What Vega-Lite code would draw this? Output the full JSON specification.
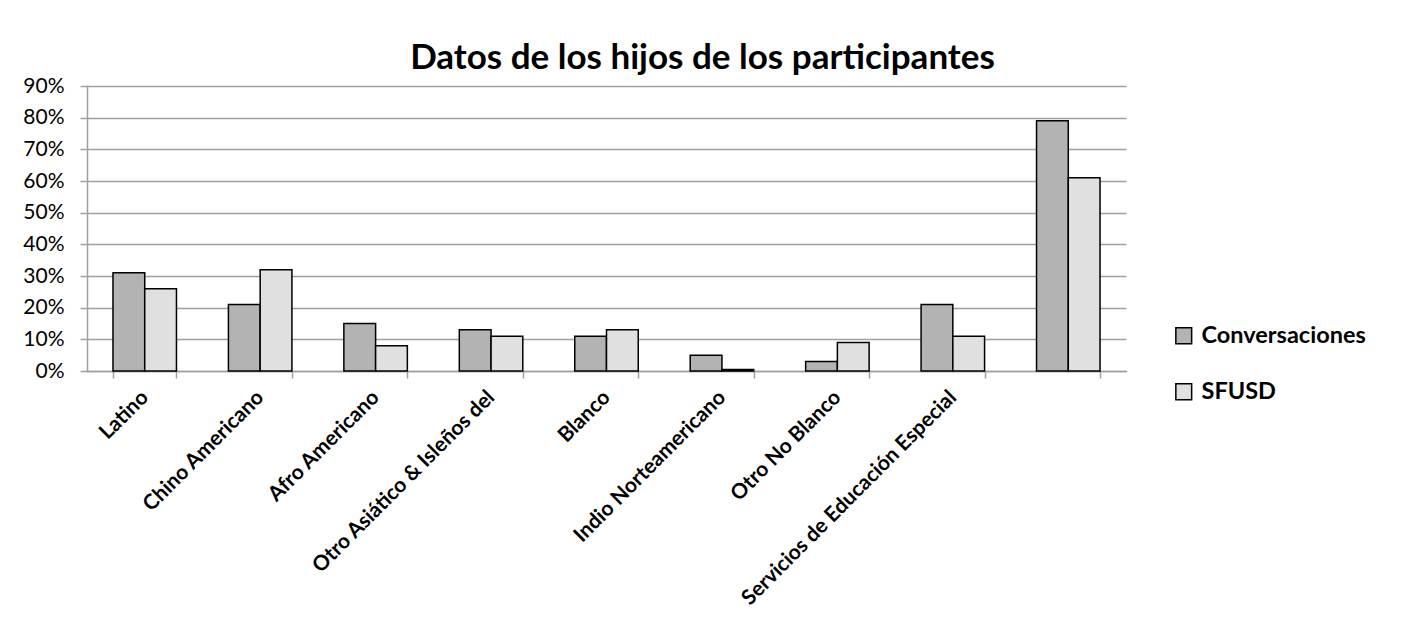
{
  "$schema": "https://vega.github.io/schema/vega-lite/v6.json",
  "width": 1039,
  "height": 285,
  "autosize": {"type": "none"},
  "padding": {"left": 87, "top": 86, "right": 277, "bottom": 270},
  "background": "white",
  "title": {
    "text": "Datos de los hijos de los participantes",
    "font": "Lato",
    "fontSize": 35,
    "fontWeight": "bold",
    "color": "black",
    "anchor": "middle",
    "dx": 96,
    "offset": -1
  },
  "data": {
    "values": [
      {"cat": "Latino", "serie": "Conversaciones", "v": 0.31},
      {"cat": "Latino", "serie": "SFUSD", "v": 0.26},
      {"cat": "Chino Americano", "serie": "Conversaciones", "v": 0.21},
      {"cat": "Chino Americano", "serie": "SFUSD", "v": 0.32},
      {"cat": "Afro Americano", "serie": "Conversaciones", "v": 0.15},
      {"cat": "Afro Americano", "serie": "SFUSD", "v": 0.08},
      {"cat": "Otro Asiático & Isleños del", "serie": "Conversaciones", "v": 0.13},
      {"cat": "Otro Asiático & Isleños del", "serie": "SFUSD", "v": 0.11},
      {"cat": "Blanco", "serie": "Conversaciones", "v": 0.11},
      {"cat": "Blanco", "serie": "SFUSD", "v": 0.13},
      {"cat": "Indio Norteamericano", "serie": "Conversaciones", "v": 0.05},
      {"cat": "Indio Norteamericano", "serie": "SFUSD", "v": 0.005},
      {"cat": "Otro No Blanco", "serie": "Conversaciones", "v": 0.03},
      {"cat": "Otro No Blanco", "serie": "SFUSD", "v": 0.09},
      {"cat": "Servicios de Educación Especial", "serie": "Conversaciones", "v": 0.21},
      {"cat": "Servicios de Educación Especial", "serie": "SFUSD", "v": 0.11},
      {"cat": " ", "serie": "Conversaciones", "v": 0.79},
      {"cat": " ", "serie": "SFUSD", "v": 0.61}
    ]
  },
  "mark": {"type": "bar", "stroke": "black", "strokeWidth": 1.5},
  "encoding": {
    "x": {
      "field": "cat",
      "type": "nominal",
      "sort": ["Latino", "Chino Americano", "Afro Americano", "Otro Asiático & Isleños del", "Blanco", "Indio Norteamericano", "Otro No Blanco", "Servicios de Educación Especial", " "],
      "scale": {"paddingInner": 0.45, "paddingOuter": 0.225},
      "axis": {
        "title": null,
        "labelAngle": -45,
        "labelAlign": "right",
        "labelBaseline": "middle",
        "labelFont": "Lato",
        "labelFontSize": 21,
        "labelFontWeight": "bold",
        "labelColor": "black",
        "labelPadding": 16,
        "labelLimit": 400,
        "tickBand": "extent",
        "tickSize": 7,
        "tickColor": "#a0a0a0",
        "tickWidth": 1.5,
        "domainColor": "#a0a0a0",
        "domainWidth": 1.5,
        "grid": false
      }
    },
    "xOffset": {"field": "serie", "type": "nominal", "sort": ["Conversaciones", "SFUSD"], "scale": {"paddingInner": 0, "paddingOuter": 0}},
    "y": {
      "field": "v",
      "type": "quantitative",
      "scale": {"domain": [0, 0.9], "nice": false},
      "axis": {
        "title": null,
        "format": ".0%",
        "values": [0, 0.1, 0.2, 0.3, 0.4, 0.5, 0.6, 0.7, 0.8, 0.9],
        "labelFont": "Lato",
        "labelFontSize": 21,
        "labelColor": "black",
        "labelPadding": 16,
        "tickSize": 7,
        "tickColor": "#a0a0a0",
        "tickWidth": 1.5,
        "domainColor": "#a0a0a0",
        "domainWidth": 1.5,
        "grid": true,
        "gridColor": "#a0a0a0",
        "gridWidth": 1.5
      }
    },
    "color": {
      "field": "serie",
      "type": "nominal",
      "sort": ["Conversaciones", "SFUSD"],
      "scale": {"domain": ["Conversaciones", "SFUSD"], "range": ["#b3b3b3", "#e0e0e0"]},
      "legend": {
        "title": null,
        "orient": "none",
        "legendX": 1085,
        "legendY": 238,
        "symbolType": "square",
        "symbolSize": 250,
        "symbolStrokeColor": "black",
        "symbolStrokeWidth": 1.5,
        "symbolOpacity": 1,
        "labelFont": "Lato",
        "labelFontSize": 23.5,
        "labelFontWeight": "bold",
        "labelColor": "black",
        "labelOffset": 6,
        "rowPadding": 31,
        "labelLimit": 300
      }
    }
  },
  "config": {
    "view": {"stroke": null},
    "axis": {"domainCap": "square"}
  }
}
